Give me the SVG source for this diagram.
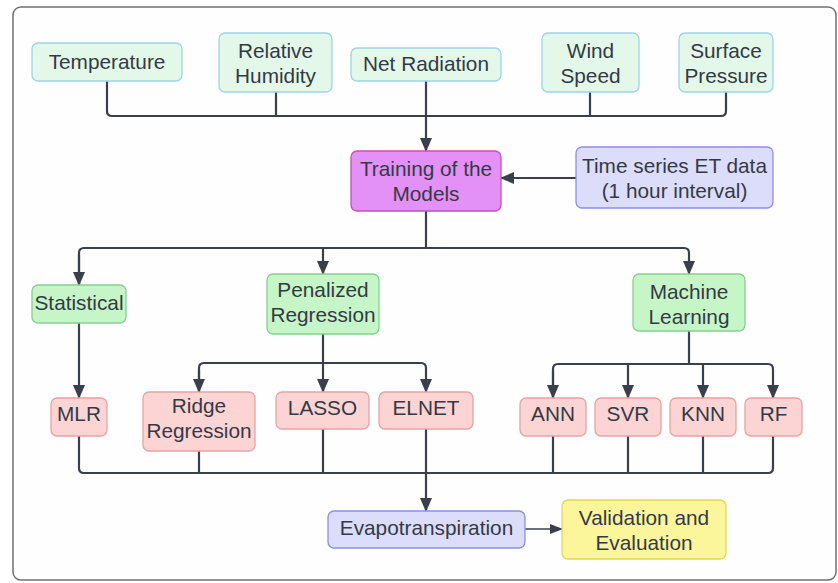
<svg xmlns="http://www.w3.org/2000/svg" width="838" height="583" viewBox="0 0 838 583">
<style>
text{font-family:"Liberation Sans",Arial,sans-serif;font-size:20.8px;fill:#343a45;text-anchor:middle}
.in{fill:#e3f8e9;stroke:#9ed3e6;stroke-width:1.3}
.gr{fill:#c6f5c8;stroke:#86cf8e;stroke-width:1.3}
.rd{fill:#fcd4d4;stroke:#e6a3a3;stroke-width:1.3}
.pu{fill:#dcdcfb;stroke:#8e8ede;stroke-width:1.3}
.ye{fill:#fbf59c;stroke:#e3d55c;stroke-width:1.3}
.mg{fill:#e390f7;stroke:#c452b8;stroke-width:1.3}
.c{fill:none;stroke:#3a3f4a;stroke-width:2.2}
.t{fill:none;stroke:#3a3f4a;stroke-width:1.3}
</style>
<defs>
<marker id="ah" markerUnits="userSpaceOnUse" markerWidth="14" markerHeight="12" viewBox="0 0 14 12" refX="13" refY="6" orient="auto">
<path d="M0,0 L14,6 L0,12 Z" fill="#3a3f4a"/>
</marker>
<marker id="ahs" markerUnits="userSpaceOnUse" markerWidth="13" markerHeight="10" viewBox="0 0 13 10" refX="12" refY="5" orient="auto">
<path d="M0,0 L13,5 L0,10 Z" fill="#3a3f4a"/>
</marker>
</defs>
<rect x="0" y="0" width="838" height="583" fill="#ffffff"/>
<rect x="13" y="7" width="823" height="573" rx="8" fill="#fefefe" stroke="#707070" stroke-width="1.5"/>
<g id="connectors">
<path class="c" d="M107,81 V111 Q107,116 112,116 H721 Q726,116 726,111 V92"/>
<path class="c" d="M276,92 V116"/>
<path class="c" d="M590,92 V116"/>
<path class="c" d="M426,81 V151" marker-end="url(#ah)"/>
<path class="c" d="M576,178 H501" marker-end="url(#ah)"/>
<path class="c" d="M426,211 V248"/>
<path class="c" d="M79,285 V253 Q79,248 84,248 H684 Q689,248 689,253 V274" marker-end="url(#ah)"/>
<path class="c" d="M79,255 V285" marker-end="url(#ah)"/>
<path class="c" d="M323,248 V274" marker-end="url(#ah)"/>
<path class="c" d="M79,323 V398" marker-end="url(#ah)"/>
<path class="c" d="M323,334 V363"/>
<path class="c" d="M199,392 V368 Q199,363 204,363 H421 Q426,363 426,368 V392" marker-end="url(#ah)"/>
<path class="c" d="M199,370 V392" marker-end="url(#ah)"/>
<path class="c" d="M323,363 V392" marker-end="url(#ah)"/>
<path class="c" d="M689,331 V364"/>
<path class="c" d="M553,398 V369 Q553,364 558,364 H768 Q773,364 773,369 V398" marker-end="url(#ah)"/>
<path class="c" d="M553,371 V398" marker-end="url(#ah)"/>
<path class="c" d="M628,364 V398" marker-end="url(#ah)"/>
<path class="c" d="M703,364 V398" marker-end="url(#ah)"/>
<path class="c" d="M79,436 V468 Q79,473 84,473 H768 Q773,473 773,468 V436"/>
<path class="c" d="M199,451 V473"/>
<path class="c" d="M323,429 V473"/>
<path class="c" d="M426,429 V511" marker-end="url(#ah)"/>
<path class="c" d="M553,436 V473"/>
<path class="c" d="M628,436 V473"/>
<path class="c" d="M703,436 V473"/>
<path class="t" d="M525,529 H562" marker-end="url(#ahs)"/>
</g>
<g id="temperature"><rect class="in" x="32" y="43" width="150" height="38" rx="6"/><text x="107" y="69">Temperature</text></g>
<g id="humidity"><rect class="in" x="219" y="33" width="113" height="59" rx="6"/><text x="275.5" y="58">Relative</text><text x="275.5" y="83">Humidity</text></g>
<g id="radiation"><rect class="in" x="351" y="48" width="150" height="33" rx="6"/><text x="426" y="71">Net Radiation</text></g>
<g id="wind"><rect class="in" x="542" y="33" width="97" height="59" rx="6"/><text x="590.5" y="58">Wind</text><text x="590.5" y="83">Speed</text></g>
<g id="pressure"><rect class="in" x="679" y="33" width="94" height="59" rx="6"/><text x="726" y="58">Surface</text><text x="726" y="83">Pressure</text></g>
<g id="training"><rect class="mg" x="351" y="151" width="150" height="60" rx="6"/><text x="426" y="176">Training of the</text><text x="426" y="201">Models</text></g>
<g id="timeseries"><rect class="pu" x="576" y="147" width="197" height="61" rx="6"/><text x="674.5" y="173">Time series ET data</text><text x="674.5" y="198">(1 hour interval)</text></g>
<g id="statistical"><rect class="gr" x="32" y="285" width="94" height="38" rx="6"/><text x="79" y="310">Statistical</text></g>
<g id="penalized"><rect class="gr" x="267" y="274" width="112" height="60" rx="6"/><text x="323" y="297">Penalized</text><text x="323" y="322">Regression</text></g>
<g id="machine"><rect class="gr" x="633" y="274" width="112" height="57" rx="6"/><text x="689" y="299">Machine</text><text x="689" y="324">Learning</text></g>
<g id="mlr"><rect class="rd" x="51" y="398" width="56" height="38" rx="6"/><text x="79" y="421">MLR</text></g>
<g id="ridge"><rect class="rd" x="143" y="392" width="112" height="59" rx="6"/><text x="199" y="413">Ridge</text><text x="199" y="438">Regression</text></g>
<g id="lasso"><rect class="rd" x="276" y="392" width="93" height="37" rx="6"/><text x="322.5" y="415">LASSO</text></g>
<g id="elnet"><rect class="rd" x="379" y="392" width="94" height="37" rx="6"/><text x="426" y="415">ELNET</text></g>
<g id="ann"><rect class="rd" x="520" y="398" width="66" height="38" rx="6"/><text x="553" y="421">ANN</text></g>
<g id="svr"><rect class="rd" x="595" y="398" width="66" height="38" rx="6"/><text x="628" y="421">SVR</text></g>
<g id="knn"><rect class="rd" x="670" y="398" width="66" height="38" rx="6"/><text x="703" y="421">KNN</text></g>
<g id="rf"><rect class="rd" x="745" y="398" width="57" height="38" rx="6"/><text x="773.5" y="421">RF</text></g>
<g id="evapotranspiration"><rect class="pu" x="328" y="511" width="197" height="37" rx="6"/><text x="426.5" y="535">Evapotranspiration</text></g>
<g id="validation"><rect class="ye" x="562" y="500" width="164" height="59" rx="6"/><text x="644" y="525">Validation and</text><text x="644" y="550">Evaluation</text></g>
</svg>
